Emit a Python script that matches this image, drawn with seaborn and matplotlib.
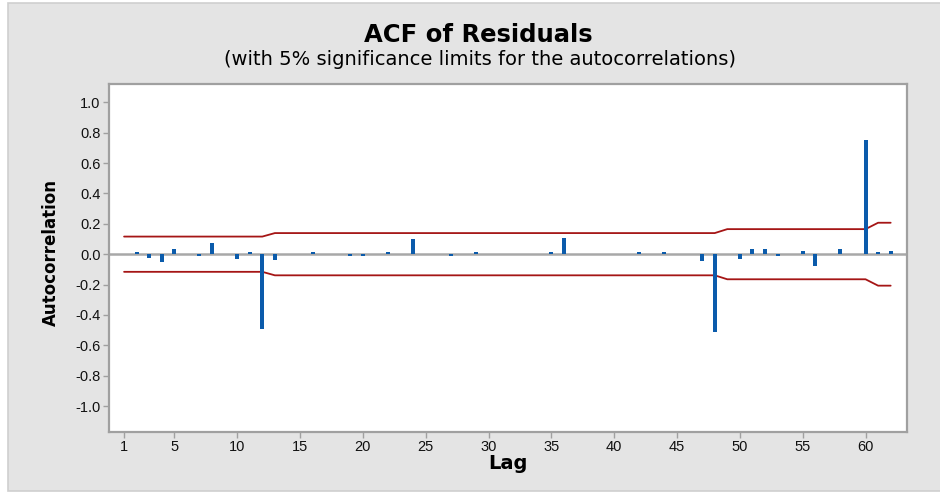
import seaborn as sns
import pandas as pd
import matplotlib.pyplot as plt
from matplotlib.patches import Rectangle

lags = list(range(1, 63))
acf = [0.000, 0.014, -0.026, -0.050, 0.035, 0.000, -0.010, 0.072, 0.000, -0.034,
       0.014, -0.495, -0.035, 0.000, 0.000, 0.012, 0.000, 0.000, -0.012, -0.012,
       0.000, 0.012, 0.000, 0.097, 0.000, 0.000, -0.012, 0.000, 0.012, 0.000,
       0.000, 0.000, 0.000, 0.000, 0.012, 0.108, 0.000, 0.000, 0.000, 0.000,
       0.000, 0.012, 0.000, 0.012, 0.000, 0.000, -0.042, -0.510, 0.000, -0.033,
       0.031, 0.031, -0.012, 0.000, 0.022, -0.076, 0.000, 0.031, 0.000, 0.752,
       0.012, 0.022]
# significance limits, read per block of lags
limit_lags_1_12 = [0.116] * 12
limit_lags_13_48 = [0.139] * 36
limit_lags_49_60 = [0.165] * 12
limit_lags_61_62 = [0.207] * 2
upper = limit_lags_1_12 + limit_lags_13_48 + limit_lags_49_60 + limit_lags_61_62
lower = [-v for v in upper]

xticks = [1, 5, 10, 15, 20, 25, 30, 35, 40, 45, 50, 55, 60]
yticks = [-1.0, -0.8, -0.6, -0.4, -0.2, 0.0, 0.2, 0.4, 0.6, 0.8, 1.0]

df = pd.DataFrame({'Lag': lags, 'ACF': acf, 'upper': upper, 'lower': lower})

sns.set_style('white')
plt.rcParams['font.family'] = ['Liberation Sans', 'DejaVu Sans']
plt.rcParams['text.color'] = 'black'
plt.rcParams['axes.labelcolor'] = 'black'

fig = plt.figure(figsize=(9.4, 4.95), dpi=100, facecolor='white')
fig.patches.append(Rectangle((8 / 940, 4 / 495), 1.0, 1 - 7 / 495, transform=fig.transFigure,
                             facecolor='#e4e4e4', edgecolor='#cfcfcf', linewidth=1.2, zorder=-10))
ax = fig.add_axes([109 / 940, 1 - 432 / 495, (907 - 109) / 940, (432 - 84) / 495])
ax.set_facecolor('white')

ax.axhline(0, color='#a8a8a8', linewidth=1.8, zorder=1)
sns.lineplot(data=df, x='Lag', y='upper', color='#a51515', linewidth=1.3, ax=ax, zorder=2)
sns.lineplot(data=df, x='Lag', y='lower', color='#a51515', linewidth=1.3, ax=ax, zorder=2)
sns.barplot(data=df, x='Lag', y='ACF', native_scale=True, width=0.32, color='#0b5bab',
            saturation=1, linewidth=0, edgecolor='#0b5bab', ax=ax, zorder=3)

ax.set_xlim(-0.2, 63.3)
ax.set_ylim(-1.17, 1.12)
ax.set_xticks(xticks)
ax.set_yticks(yticks)
ax.set_yticklabels([f'{v:.1f}' for v in yticks])
ax.tick_params(axis='both', direction='out', length=4, width=1, color='#a0a0a0',
               labelsize=10.5, labelcolor='#111111', pad=2, left=True, bottom=True)
for s in ax.spines.values():
    s.set_color('#a0a0a0')
    s.set_linewidth(1.6)

ax.set_xlabel('Lag', fontsize=14, fontweight='bold', family='DejaVu Sans', va='top')
ax.set_ylabel('Autocorrelation', fontsize=12, fontweight='bold', family='DejaVu Sans')
ax.xaxis.set_label_coords(0.5, -0.064)
ax.yaxis.set_label_coords(-0.062, 0.517)

fig.text(0.5085, 0.9158, 'ACF of Residuals', ha='center', va='baseline', fontsize=17.5,
         fontweight='bold', family='DejaVu Sans')
fig.text(0.5106, 0.8687, '(with 5% significance limits for the autocorrelations)', ha='center',
         va='baseline', fontsize=14, family='DejaVu Sans')

plt.savefig('out.png', dpi=100)
